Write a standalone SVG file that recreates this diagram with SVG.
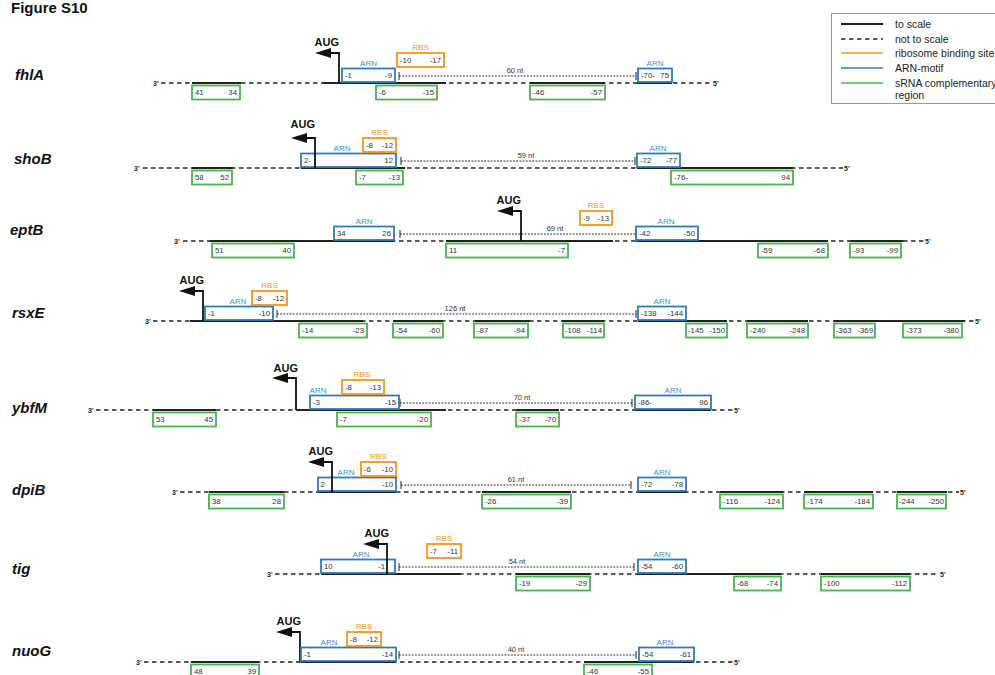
<svg xmlns="http://www.w3.org/2000/svg" width="995" height="675" viewBox="0 0 995 675">
<style>
text{font-family:"Liberation Sans",Arial,Helvetica,sans-serif}
.title{font-weight:bold;font-size:15px;fill:#111}
.gene{font-weight:bold;font-style:italic;font-size:15px;fill:#111}
.n{font-size:7.8px;fill:#333}
.e{text-anchor:end}
.al{font-size:8px;fill:#3f8fd2;text-anchor:middle}
.rl{font-size:8px;fill:#f7941d;text-anchor:middle}
.aug{font-weight:bold;font-size:11px;fill:#111;text-anchor:end}
.end{font-weight:bold;font-size:7px;fill:#222}
.nt{font-size:7.5px;fill:#333;text-anchor:middle}
.arn{fill:none;stroke:#2b7bc0;stroke-width:1.8}
.rbs{fill:none;stroke:#f7941d;stroke-width:1.8}
.sr{fill:none;stroke:#45b649;stroke-width:1.8}
.dash{stroke:#222;stroke-width:1.4;stroke-dasharray:4.5 3.5;fill:none}
.solid{stroke:#222;stroke-width:2.2;fill:none}
.dot{stroke:#222;stroke-width:1;stroke-dasharray:1.8 1.4;fill:none}
.tick{stroke:#222;stroke-width:1;fill:none}
.arr{stroke:#111;stroke-width:1.8;fill:none}
.head{fill:#111}
.leg{font-size:10.5px;fill:#222}
</style>

<text class="title" x="11" y="13">Figure S10</text>

<g id="legend">
<rect x="831.5" y="13.5" width="170" height="90" fill="#fff" stroke="#999" stroke-width="1"/>
<line x1="841" y1="24" x2="883" y2="24" class="solid" stroke-width="1.6"/>
<line x1="841" y1="39" x2="883" y2="39" class="dash" stroke-dasharray="5 5"/>
<line x1="841" y1="53" x2="883" y2="53" stroke="#f7941d" stroke-width="1.6"/>
<line x1="841" y1="68" x2="883" y2="68" stroke="#2b7bc0" stroke-width="1.6"/>
<line x1="841" y1="83" x2="883" y2="83" stroke="#45b649" stroke-width="1.6"/>
<text class="leg" x="895" y="27.5">to scale</text>
<text class="leg" x="895" y="42.5">not to scale</text>
<text class="leg" x="895" y="56.5">ribosome binding site</text>
<text class="leg" x="895" y="71.5">ARN-motif</text>
<text class="leg" x="895" y="86.5">sRNA complementary</text>
<text class="leg" x="895" y="98.5">region</text>
</g>

<g id="connectors">
<path class="dot" d="M399 76H636"/><path class="tick" d="M399 72V80M636 72V80"/>
<path class="dot" d="M401 161H635"/><path class="tick" d="M401 157V165M635 157V165"/>
<path class="dot" d="M400 234H636"/><path class="tick" d="M400 230V238M636 230V238"/>
<path class="dot" d="M277 314H636"/><path class="tick" d="M277 310V318M636 310V318"/>
<path class="dot" d="M400 403H632"/><path class="tick" d="M400 399V407M632 399V407"/>
<path class="dot" d="M401 485H631"/><path class="tick" d="M401 481V489M631 481V489"/>
<path class="dot" d="M399 567H634"/><path class="tick" d="M399 563V571M634 563V571"/>
<path class="dot" d="M399 655H636"/><path class="tick" d="M399 651V659M636 651V659"/>
</g>

<!-- ================= fhlA ================= -->
<g id="fhlA">
<text class="gene" x="15" y="80">fhlA</text>
<path class="dash" d="M161 83H711"/>
<path class="solid" d="M192 83H241M323 83H446M530 83H605M637 83H672"/>
<text class="end" x="153" y="85.5">3'</text><text class="end" x="713" y="85.5">5'</text>
<text class="nt" x="515" y="73">60 nt</text>
<g id="fhlA-aug"><path class="arr" d="M339 83V53H330"/><polygon class="head" points="315,53 331,48 331,58"/><text class="aug" x="339" y="46">AUG</text></g>
<g id="fhlA-arn1"><rect class="arn" x="342" y="68.5" width="53" height="13.5"/><text class="al" x="368.5" y="65.5">ARN</text><text class="n" x="345" y="78">-1</text><text class="n e" x="392" y="78">-9</text></g>
<g id="fhlA-rbs"><rect class="rbs" x="397" y="53" width="47" height="14"/><text class="rl" x="420.5" y="50">RBS</text><text class="n" x="400" y="62.7">-10</text><text class="n e" x="441" y="62.7">-17</text></g>
<g id="fhlA-arn2"><rect class="arn" x="638" y="68.5" width="34" height="13.5"/><text class="al" x="655" y="65.5">ARN</text><text class="n" x="641" y="78">-70-</text><text class="n e" x="669" y="78">75</text></g>
<g id="fhlA-s1"><rect class="sr" x="192" y="85.5" width="48" height="14"/><text class="n" x="195" y="95.2">41</text><text class="n e" x="237" y="95.2">34</text></g>
<g id="fhlA-s2"><rect class="sr" x="376" y="85.5" width="61" height="14"/><text class="n" x="379" y="95.2">-6</text><text class="n e" x="434" y="95.2">-15</text></g>
<g id="fhlA-s3"><rect class="sr" x="530" y="85.5" width="75" height="14"/><text class="n" x="533" y="95.2">-46</text><text class="n e" x="602" y="95.2">-57</text></g>
</g>

<!-- ================= shoB ================= -->
<g id="shoB">
<text class="gene" x="14" y="164">shoB</text>
<path class="dash" d="M143 168H843"/>
<path class="solid" d="M192 168H233M301 168H405M637 168H793"/>
<text class="end" x="134" y="170.5">3'</text><text class="end" x="844" y="170.5">5'</text>
<text class="nt" x="526" y="158">59 nt</text>
<g id="shoB-arn1"><rect class="arn" x="301" y="153.5" width="95" height="13.5"/><text class="al" x="342" y="150.5">ARN</text><text class="n" x="304" y="163">2-</text><text class="n e" x="393" y="163">12</text></g>
<g id="shoB-aug"><path class="arr" d="M315 168V138H306"/><polygon class="head" points="291,138 307,133 307,143"/><text class="aug" x="315" y="128">AUG</text></g>
<g id="shoB-rbs"><rect class="rbs" x="363" y="138" width="33" height="14"/><text class="rl" x="379.5" y="135">RBS</text><text class="n" x="366" y="147.7">-8</text><text class="n e" x="393" y="147.7">-12</text></g>
<g id="shoB-arn2"><rect class="arn" x="637" y="153.5" width="43" height="13.5"/><text class="al" x="658" y="150.5">ARN</text><text class="n" x="640" y="163">-72</text><text class="n e" x="677" y="163">-77</text></g>
<g id="shoB-s1"><rect class="sr" x="192" y="170.5" width="40" height="14"/><text class="n" x="195" y="180.2">58</text><text class="n e" x="229" y="180.2">52</text></g>
<g id="shoB-s2"><rect class="sr" x="356" y="170.5" width="47" height="14"/><text class="n" x="359" y="180.2">-7</text><text class="n e" x="400" y="180.2">-13</text></g>
<g id="shoB-s3"><rect class="sr" x="671" y="170.5" width="122" height="14"/><text class="n" x="674" y="180.2">-76-</text><text class="n e" x="790" y="180.2">94</text></g>
</g>

<!-- ================= eptB ================= -->
<g id="eptB">
<text class="gene" x="10" y="235">eptB</text>
<path class="dash" d="M183 241H924"/>
<path class="solid" d="M210 241H394M446 241H613M636 241H828M850 241H903"/>
<text class="end" x="174" y="243.5">3'</text><text class="end" x="925" y="243.5">5'</text>
<text class="nt" x="555" y="231">69 nt</text>
<g id="eptB-arn1"><rect class="arn" x="334" y="226.5" width="60" height="13.5"/><text class="al" x="364" y="223.5">ARN</text><text class="n" x="337" y="236">34</text><text class="n e" x="391" y="236">26</text></g>
<g id="eptB-aug"><path class="arr" d="M521 241V211H512"/><polygon class="head" points="497,211 513,206 513,216"/><text class="aug" x="521" y="204">AUG</text></g>
<g id="eptB-rbs"><rect class="rbs" x="580" y="211" width="32" height="14"/><text class="rl" x="596" y="208">RBS</text><text class="n" x="583" y="220.7">-9</text><text class="n e" x="609" y="220.7">-13</text></g>
<g id="eptB-arn2"><rect class="arn" x="636" y="226.5" width="62" height="13.5"/><text class="al" x="666" y="223.5">ARN</text><text class="n" x="639" y="236">-42</text><text class="n e" x="695" y="236">-50</text></g>
<g id="eptB-s1"><rect class="sr" x="212" y="243.5" width="82" height="14"/><text class="n" x="215" y="253.2">51</text><text class="n e" x="291" y="253.2">40</text></g>
<g id="eptB-s2"><rect class="sr" x="446" y="243.5" width="122" height="14"/><text class="n" x="449" y="253.2">11</text><text class="n e" x="565" y="253.2">-7</text></g>
<g id="eptB-s3"><rect class="sr" x="758" y="243.5" width="70" height="14"/><text class="n" x="761" y="253.2">-59</text><text class="n e" x="825" y="253.2">-68</text></g>
<g id="eptB-s4"><rect class="sr" x="850" y="243.5" width="51" height="14"/><text class="n" x="853" y="253.2">-93</text><text class="n e" x="898" y="253.2">-99</text></g>
</g>

<!-- ================= rsxE ================= -->
<g id="rsxE">
<text class="gene" x="12" y="318">rsxE</text>
<path class="dash" d="M153 321H974"/>
<path class="solid" d="M190 321H363M393 321H443M475 321H530M562 321H604M638 321H727M747 321H808M834 321H965"/>
<text class="end" x="145" y="323.5">3'</text><text class="end" x="975" y="323.5">5'</text>
<text class="nt" x="455" y="311">126 nt</text>
<g id="rsxE-aug"><path class="arr" d="M203 321V291H194"/><polygon class="head" points="179,291 195,286 195,296"/><text class="aug" x="204" y="284">AUG</text></g>
<g id="rsxE-arn1"><rect class="arn" x="205" y="306.5" width="68" height="13.5"/><text class="al" x="238" y="303.5">ARN</text><text class="n" x="208" y="316">-1</text><text class="n e" x="270" y="316">-10</text></g>
<g id="rsxE-rbs"><rect class="rbs" x="252" y="291" width="35" height="14"/><text class="rl" x="269.5" y="288">RBS</text><text class="n" x="255" y="300.7">-8</text><text class="n e" x="284" y="300.7">-12</text></g>
<g id="rsxE-arn2"><rect class="arn" x="638" y="306.5" width="48" height="13.5"/><text class="al" x="662" y="303.5">ARN</text><text class="n" x="641" y="316">-138</text><text class="n e" x="683" y="316">-144</text></g>
<g id="rsxE-s1"><rect class="sr" x="299" y="323.5" width="68" height="14"/><text class="n" x="302" y="333.2">-14</text><text class="n e" x="364" y="333.2">-23</text></g>
<g id="rsxE-s2"><rect class="sr" x="393" y="323.5" width="50" height="14"/><text class="n" x="396" y="333.2">-54</text><text class="n e" x="440" y="333.2">-60</text></g>
<g id="rsxE-s3"><rect class="sr" x="474" y="323.5" width="54" height="14"/><text class="n" x="477" y="333.2">-87</text><text class="n e" x="525" y="333.2">-94</text></g>
<g id="rsxE-s4"><rect class="sr" x="563" y="323.5" width="41" height="14"/><text class="n" x="565" y="333.2">-108</text><text class="n e" x="602" y="333.2">-114</text></g>
<g id="rsxE-s5"><rect class="sr" x="686" y="323.5" width="41" height="14"/><text class="n" x="688" y="333.2">-145</text><text class="n e" x="725" y="333.2">-150</text></g>
<g id="rsxE-s6"><rect class="sr" x="747" y="323.5" width="61" height="14"/><text class="n" x="750" y="333.2">-240</text><text class="n e" x="805" y="333.2">-248</text></g>
<g id="rsxE-s7"><rect class="sr" x="834" y="323.5" width="41" height="14"/><text class="n" x="836" y="333.2">-363</text><text class="n e" x="873" y="333.2">-369</text></g>
<g id="rsxE-s8"><rect class="sr" x="903" y="323.5" width="59" height="14"/><text class="n" x="906" y="333.2">-373</text><text class="n e" x="959" y="333.2">-380</text></g>
</g>

<!-- ================= ybfM ================= -->
<g id="ybfM">
<text class="gene" x="12" y="413">ybfM</text>
<path class="dash" d="M96 410H733"/>
<path class="solid" d="M153 410H216M296 410H446M516 410H559M635 410H711"/>
<text class="end" x="88" y="412.5">3'</text><text class="end" x="734" y="412.5">5'</text>
<text class="nt" x="522" y="400">70 nt</text>
<g id="ybfM-aug"><path class="arr" d="M296 410V378H287"/><polygon class="head" points="272,378 288,373 288,383"/><text class="aug" x="298" y="372">AUG</text></g>
<g id="ybfM-arn1"><rect class="arn" x="310" y="395.5" width="89" height="13.5"/><text class="al" x="318" y="392.5">ARN</text><text class="n" x="313" y="405">-3</text><text class="n e" x="396" y="405">-15</text></g>
<g id="ybfM-rbs"><rect class="rbs" x="342" y="380" width="42" height="14"/><text class="rl" x="362" y="377">RBS</text><text class="n" x="345" y="389.7">-8</text><text class="n e" x="381" y="389.7">-13</text></g>
<g id="ybfM-arn2"><rect class="arn" x="635" y="395.5" width="76" height="13.5"/><text class="al" x="673" y="392.5">ARN</text><text class="n" x="638" y="405">-86-</text><text class="n e" x="708" y="405">96</text></g>
<g id="ybfM-s1"><rect class="sr" x="153" y="412.5" width="63" height="14"/><text class="n" x="156" y="422.2">53</text><text class="n e" x="213" y="422.2">45</text></g>
<g id="ybfM-s2"><rect class="sr" x="337" y="412.5" width="94" height="14"/><text class="n" x="340" y="422.2">-7</text><text class="n e" x="428" y="422.2">-20</text></g>
<g id="ybfM-s3"><rect class="sr" x="516" y="412.5" width="43" height="14"/><text class="n" x="519" y="422.2">-37</text><text class="n e" x="556" y="422.2">-70</text></g>
</g>

<!-- ================= dpiB ================= -->
<g id="dpiB">
<text class="gene" x="12" y="495">dpiB</text>
<path class="dash" d="M180 492H959"/>
<path class="solid" d="M209 492H284M318 492H396M482 492H571M638 492H686M720 492H783M804 492H873M897 492H947"/>
<text class="end" x="172" y="494.5">3'</text><text class="end" x="960" y="494.5">5'</text>
<text class="nt" x="516" y="482">61 nt</text>
<g id="dpiB-arn1"><rect class="arn" x="318" y="477.5" width="78" height="13.5"/><text class="al" x="346" y="474.5">ARN</text><text class="n" x="320.5" y="487">2</text><text class="n e" x="393" y="487">-10</text></g>
<g id="dpiB-aug"><path class="arr" d="M332 492V462H323"/><polygon class="head" points="308,462 324,457 324,467"/><text class="aug" x="333" y="455">AUG</text></g>
<g id="dpiB-rbs"><rect class="rbs" x="361" y="462" width="35" height="14"/><text class="rl" x="378.5" y="459">RBS</text><text class="n" x="364" y="471.7">-6</text><text class="n e" x="393" y="471.7">-10</text></g>
<g id="dpiB-arn2"><rect class="arn" x="638" y="477.5" width="48" height="13.5"/><text class="al" x="662" y="474.5">ARN</text><text class="n" x="641" y="487">-72</text><text class="n e" x="683" y="487">-78</text></g>
<g id="dpiB-s1"><rect class="sr" x="209" y="494.5" width="75" height="14"/><text class="n" x="212" y="504.2">38</text><text class="n e" x="281" y="504.2">28</text></g>
<g id="dpiB-s2"><rect class="sr" x="482" y="494.5" width="89" height="14"/><text class="n" x="485" y="504.2">-26</text><text class="n e" x="568" y="504.2">-39</text></g>
<g id="dpiB-s3"><rect class="sr" x="720" y="494.5" width="63" height="14"/><text class="n" x="723" y="504.2">-116</text><text class="n e" x="780" y="504.2">-124</text></g>
<g id="dpiB-s4"><rect class="sr" x="804" y="494.5" width="69" height="14"/><text class="n" x="807" y="504.2">-174</text><text class="n e" x="870" y="504.2">-184</text></g>
<g id="dpiB-s5"><rect class="sr" x="897" y="494.5" width="49" height="14"/><text class="n" x="899" y="504.2">-244</text><text class="n e" x="944" y="504.2">-250</text></g>
</g>

<!-- ================= tig ================= -->
<g id="tig">
<text class="gene" x="12" y="574">tig</text>
<path class="dash" d="M275 574H939"/>
<path class="solid" d="M321 574H461M516 574H590M637 574H781M821 574H910"/>
<text class="end" x="267" y="576.5">3'</text><text class="end" x="940" y="576.5">5'</text>
<text class="nt" x="517" y="564">54 nt</text>
<g id="tig-arn1"><rect class="arn" x="321" y="559.5" width="74" height="13.5"/><text class="al" x="361" y="556.5">ARN</text><text class="n" x="324" y="569">10</text><text class="n e" x="385" y="569">-1</text></g>
<g id="tig-aug"><path class="arr" d="M387 574V544H378"/><polygon class="head" points="363,544 379,539 379,549"/><text class="aug" x="389" y="537">AUG</text></g>
<g id="tig-rbs"><rect class="rbs" x="427" y="544" width="34" height="14"/><text class="rl" x="444" y="541">RBS</text><text class="n" x="430" y="553.7">-7</text><text class="n e" x="458" y="553.7">-11</text></g>
<g id="tig-arn2"><rect class="arn" x="638" y="559.5" width="48" height="13.5"/><text class="al" x="662" y="556.5">ARN</text><text class="n" x="641" y="569">-54</text><text class="n e" x="683" y="569">-60</text></g>
<g id="tig-s1"><rect class="sr" x="516" y="576.5" width="74" height="14"/><text class="n" x="519" y="586.2">-19</text><text class="n e" x="587" y="586.2">-29</text></g>
<g id="tig-s2"><rect class="sr" x="734" y="576.5" width="47" height="14"/><text class="n" x="737" y="586.2">-68</text><text class="n e" x="778" y="586.2">-74</text></g>
<g id="tig-s3"><rect class="sr" x="821" y="576.5" width="89" height="14"/><text class="n" x="824" y="586.2">-100</text><text class="n e" x="907" y="586.2">-112</text></g>
</g>

<!-- ================= nuoG ================= -->
<g id="nuoG">
<text class="gene" x="12" y="656">nuoG</text>
<path class="dash" d="M144 662H733"/>
<path class="solid" d="M191 662H259M301 662H396M584 662H694"/>
<text class="end" x="136" y="664.5">3'</text><text class="end" x="734" y="664.5">5'</text>
<text class="nt" x="516" y="652">40 nt</text>
<g id="nuoG-aug"><path class="arr" d="M300 662V632H291"/><polygon class="head" points="276,632 292,627 292,637"/><text class="aug" x="301" y="625">AUG</text></g>
<g id="nuoG-arn1"><rect class="arn" x="301" y="647.5" width="95" height="13.5"/><text class="al" x="329" y="644.5">ARN</text><text class="n" x="304" y="657">-1</text><text class="n e" x="393" y="657">-14</text></g>
<g id="nuoG-rbs"><rect class="rbs" x="347" y="632" width="34" height="14"/><text class="rl" x="364" y="629">RBS</text><text class="n" x="350" y="641.7">-8</text><text class="n e" x="378" y="641.7">-12</text></g>
<g id="nuoG-arn2"><rect class="arn" x="639" y="647.5" width="55" height="13.5"/><text class="al" x="665" y="644.5">ARN</text><text class="n" x="642" y="657">-54</text><text class="n e" x="691" y="657">-61</text></g>
<g id="nuoG-s1"><rect class="sr" x="191" y="664.5" width="68" height="14"/><text class="n" x="194" y="673.5">48</text><text class="n e" x="256" y="673.5">39</text></g>
<g id="nuoG-s2"><rect class="sr" x="584" y="664.5" width="68" height="14"/><text class="n" x="587" y="673.5">-46</text><text class="n e" x="649" y="673.5">-55</text></g>
</g>
</svg>
